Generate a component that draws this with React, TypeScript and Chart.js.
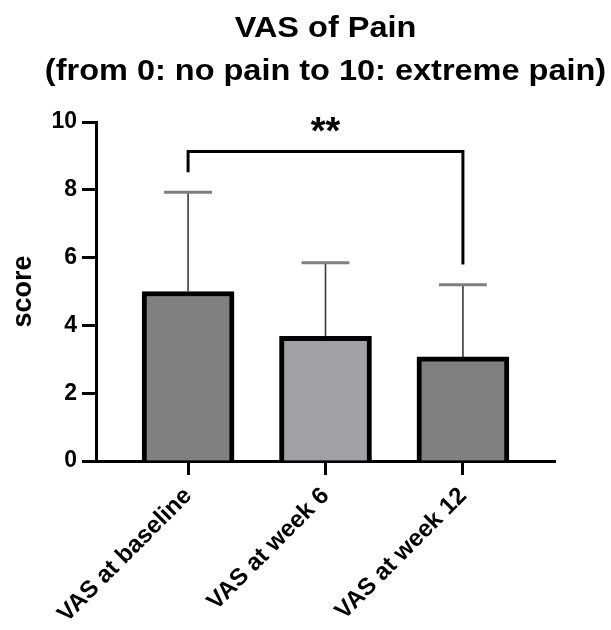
import React, { useEffect, useRef } from 'react';
import { Chart, registerables } from 'chart.js';

Chart.register(...registerables);

const categories = ['VAS at baseline', 'VAS at week 6', 'VAS at week 12'];
const meanScores = [5.0, 3.68, 3.07];
const upperErrors = [7.93, 5.85, 5.2];
const barColors = ['#808080', '#a1a0a5', '#808080'];
const yTickValues = [0, 2, 4, 6, 8, 10];
const sigPair = [0, 2];
const sigLabel = '**';
const bracketTop = 9.13;
const bracketLegEnds = [8.52, 5.8];
const titleLines = ['VAS of Pain', '(from 0: no pain to 10: extreme pain)'];
const yTitle = 'score';

const FONT = '"Liberation Sans", Arial, Helvetica, sans-serif';

const titlePlugin = {
  id: 'centeredTitle',
  afterDraw(chart: any) {
    const { ctx, chartArea } = chart;
    const cx = (chartArea.left + chartArea.right) / 2;
    const baselines = [37, 80];
    ctx.save();
    ctx.font = `bold 29px ${FONT}`;
    ctx.fillStyle = '#000';
    ctx.textAlign = 'center';
    ctx.textBaseline = 'alphabetic';
    titleLines.forEach((line, i) => {
      ctx.save();
      ctx.translate(cx, baselines[i]);
      ctx.scale(1.12, 1);
      ctx.fillText(line, 0, 0);
      ctx.restore();
    });
    ctx.restore();
  },
};

const overlay = {
  id: 'overlay',
  afterDatasetsDraw(chart: any) {
    const { ctx } = chart;
    const x = chart.scales.x;
    const y = chart.scales.y;
    const meta = chart.getDatasetMeta(0);
    ctx.save();
    meta.data.forEach((bar: any, i: number) => {
      const cx = x.getPixelForValue(i);
      const top = y.getPixelForValue(meanScores[i]);
      const up = y.getPixelForValue(upperErrors[i]);
      const half = bar.width * 0.26;
      ctx.strokeStyle = '#3a3a3a';
      ctx.lineWidth = 1.6;
      ctx.lineCap = 'butt';
      ctx.beginPath();
      ctx.moveTo(cx, top);
      ctx.lineTo(cx, up);
      ctx.stroke();
      ctx.strokeStyle = '#7f7f7f';
      ctx.lineWidth = 3;
      ctx.beginPath();
      ctx.moveTo(cx - half, up);
      ctx.lineTo(cx + half, up);
      ctx.stroke();
    });
    const x1 = x.getPixelForValue(sigPair[0]);
    const x2 = x.getPixelForValue(sigPair[1]);
    const yt = y.getPixelForValue(bracketTop);
    ctx.strokeStyle = '#000';
    ctx.lineWidth = 3;
    ctx.lineJoin = 'miter';
    ctx.beginPath();
    ctx.moveTo(x1, y.getPixelForValue(bracketLegEnds[0]));
    ctx.lineTo(x1, yt);
    ctx.lineTo(x2, yt);
    ctx.lineTo(x2, y.getPixelForValue(bracketLegEnds[1]));
    ctx.stroke();
    ctx.font = `bold 38px ${FONT}`;
    ctx.textAlign = 'center';
    ctx.textBaseline = 'alphabetic';
    ctx.fillStyle = '#000';
    ctx.fillText(sigLabel, (x1 + x2) / 2, yt - 7);
    ctx.restore();
  },
};

export default function App() {
  const ref = useRef<HTMLCanvasElement>(null);
  useEffect(() => {
    if (!ref.current) return;
    Chart.defaults.font.family = FONT;
    const chart = new Chart(ref.current, {
      type: 'bar',
      data: {
        datasets: [
          {
            data: meanScores.map((v, i) => ({ x: i, y: v })),
            backgroundColor: barColors,
            borderColor: '#000',
            borderWidth: 5,
            barThickness: 92,
          },
        ],
      },
      options: {
        responsive: false,
        animation: false,
        layout: { padding: { left: 0, right: 56, top: 122, bottom: 0 } },
        plugins: {
          legend: { display: false },
          tooltip: { enabled: false },
          title: { display: false },
        },
        scales: {
          x: {
            type: 'linear',
            offset: false,
            min: -0.67,
            max: 2.67,
            afterBuildTicks: (axis: any) => {
              axis.ticks = categories.map((_, i) => ({ value: i }));
            },
            afterFit: (s: any) => {
              s.height = 169;
            },
            ticks: {
              autoSkip: false,
              minRotation: 45,
              maxRotation: 45,
              color: '#000',
              padding: 7,
              font: { family: FONT, size: 24, weight: 'bold' },
              callback: (v: any) => categories[v] ?? '',
            },
            grid: {
              offset: false,
              drawOnChartArea: false,
              drawTicks: true,
              tickLength: 14,
              tickWidth: 3,
              tickColor: '#000',
            },
            border: { display: true, color: '#000', width: 3 },
          },
          y: {
            min: 0,
            max: 10,
            afterBuildTicks: (axis: any) => {
              axis.ticks = yTickValues.map((v) => ({ value: v }));
            },
            afterFit: (s: any) => {
              s.width = 96;
            },
            ticks: {
              color: '#000',
              padding: 5,
              font: { family: FONT, size: 23, weight: 'bold' },
            },
            title: {
              display: true,
              text: yTitle,
              color: '#000',
              font: { family: FONT, size: 27, weight: 'bold' },
              padding: { top: 7, bottom: 0 },
            },
            grid: {
              drawOnChartArea: false,
              drawTicks: true,
              tickLength: 14,
              tickWidth: 3,
              tickColor: '#000',
            },
            border: { display: true, color: '#000', width: 3 },
          },
        },
      },
      plugins: [overlay, titlePlugin],
    } as any);
    return () => chart.destroy();
  }, []);
  return (
    <div style={{ position: 'fixed', left: 0, top: 0, width: 611, height: 630, background: '#fff' }}>
      <canvas ref={ref} width={611} height={630} style={{ display: 'block' }} />
    </div>
  );
}
